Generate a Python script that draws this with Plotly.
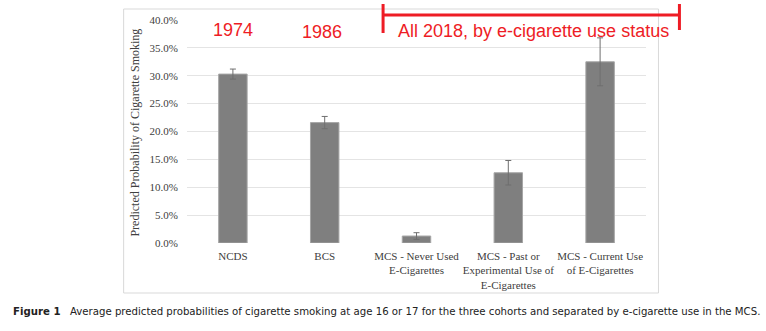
import plotly.graph_objects as go

categories = ["NCDS", "BCS", "MCS - Never Used<br>E-Cigarettes",
              "MCS - Past or<br>Experimental Use of<br>E-Cigarettes",
              "MCS - Current Use<br>of E-Cigarettes"]
values = [0.303, 0.216, 0.0125, 0.126, 0.325]
errors = [0.009, 0.011, 0.006, 0.022, 0.043]
tick_vals = [0, 0.05, 0.10, 0.15, 0.20, 0.25, 0.30, 0.35, 0.40]
tick_text = ["0.0%", "5.0%", "10.0%", "15.0%", "20.0%", "25.0%", "30.0%", "35.0%", "40.0%"]

W, H = 766, 331
L, R, T, B = 186.5, 646.5, 20, 243

def px(x):
    return (x - L) / (R - L)

def py(y):
    return (B - y) / (B - T)

fig = go.Figure()
fig.add_trace(go.Bar(
    x=list(range(len(categories))), y=values,
    marker=dict(color="#7f7f7f", line=dict(color="#a6a6a6", width=1)),
    error_y=dict(type="data", array=errors, color="#6f6f6f", thickness=1, width=3),
    width=0.31,
))

serif = "Liberation Serif, Times New Roman, serif"
cond = "DejaVu Sans Condensed, Liberation Sans Narrow, Arial Narrow"
red = "#ee1c25"
anns = [
    dict(x=px(233), y=py(30), text="1974", font=dict(family="Liberation Sans, Arial", size=18, color=red)),
    dict(x=px(322), y=py(32), text="1986", font=dict(family="Liberation Sans, Arial", size=18, color=red)),
    dict(x=px(534), y=py(31), text="All 2018, by e-cigarette use status",
         font=dict(family="Liberation Sans, Arial", size=18, color=red)),
    dict(x=px(134), y=py(133), text="Predicted Probability of Cigarette Smoking", textangle=-90,
         font=dict(family=serif, size=12, color="#404040")),
    dict(x=px(10), y=py(311), text="<b>Figure 1</b>", xanchor="left",
         font=dict(family=cond, size=11.3, color="#222")),
    dict(x=px(67), y=py(311), text="Average predicted probabilities of cigarette smoking at age 16 or 17 for the three cohorts and separated by e-cigarette use in the MCS.",
         xanchor="left",
         font=dict(family=cond, size=11.3, color="#222")),
]
for a in anns:
    a.update(xref="paper", yref="paper", showarrow=False)
    a.setdefault("xanchor", "center")
    a["yanchor"] = "middle"

shapes = [
    dict(type="rect", x0=px(123), x1=px(659), y0=py(9), y1=py(293),
         line=dict(color="#d9d9d9", width=1)),
    dict(type="line", x0=px(383), x1=px(680), y0=py(15), y1=py(15), line=dict(color=red, width=3)),
    dict(type="line", x0=px(383), x1=px(383), y0=py(4), y1=py(33), line=dict(color=red, width=3)),
    dict(type="line", x0=px(680), x1=px(680), y0=py(4), y1=py(30), line=dict(color=red, width=3)),
]
for s in shapes:
    s.update(xref="paper", yref="paper")

fig.update_layout(
    width=W, height=H,
    margin=dict(l=L, r=W - R, t=T, b=H - B),
    paper_bgcolor="white", plot_bgcolor="white",
    showlegend=False,
    annotations=anns, shapes=shapes,
    xaxis=dict(tickvals=list(range(len(categories))), ticktext=categories,
               range=[-0.5, len(categories) - 0.5], showgrid=False, zeroline=False,
               showline=False, ticks="", ticklabelstandoff=5,
               tickfont=dict(family=serif, size=11, color="#404040")),
    yaxis=dict(range=[0, 0.4], tickvals=tick_vals, ticktext=tick_text,
               showgrid=True, gridcolor="#e4e4e4", zeroline=False, showline=False,
               ticks="", ticklabelstandoff=8,
               tickfont=dict(family=serif, size=11, color="#404040")),
)
fig.write_html("out.html")
